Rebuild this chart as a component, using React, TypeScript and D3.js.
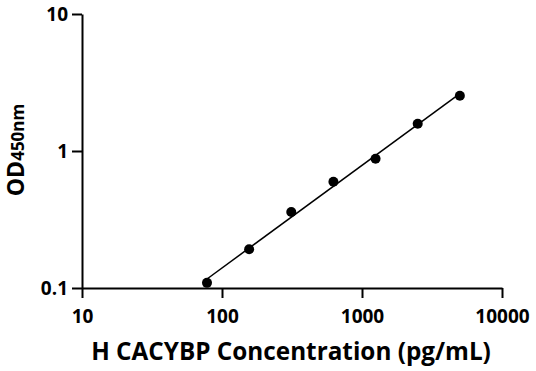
import React, { useEffect, useRef } from 'react';
import * as d3 from 'd3';

const concentrations = [78.125, 156.25, 312.5, 625, 1250, 2500, 5000];
const odValues = [0.109, 0.192, 0.359, 0.597, 0.879, 1.58, 2.53];
const xTicks = [10, 100, 1000, 10000];
const yTicks = [0.1, 1, 10];

export default function App() {
  const ref = useRef<SVGSVGElement>(null);

  useEffect(() => {
    if (!ref.current) return;
    const svg = d3.select(ref.current);
    svg.selectAll('*').remove();

    const font = "'Open Sans', 'DejaVu Sans', sans-serif";
    const x = d3.scaleLog().domain([10, 10000]).range([82, 502]);
    const y = d3.scaleLog().domain([0.1, 10]).range([288, 14]);

    // log-log linear fit
    const lx = concentrations.map(Math.log10);
    const ly = odValues.map(Math.log10);
    const mx = d3.mean(lx) as number;
    const my = d3.mean(ly) as number;
    let num = 0, den = 0;
    lx.forEach((v, i) => { num += (v - mx) * (ly[i] - my); den += (v - mx) ** 2; });
    const slope = num / den;
    const icpt = my - slope * mx;
    const fitX = [concentrations[0], concentrations[concentrations.length - 1]];

    svg.append('line')
      .attr('x1', x(fitX[0])).attr('y1', y(10 ** (icpt + slope * Math.log10(fitX[0]))))
      .attr('x2', x(fitX[1])).attr('y2', y(10 ** (icpt + slope * Math.log10(fitX[1]))))
      .attr('stroke', '#000').attr('stroke-width', 1.5);

    svg.selectAll('circle.pt').data(concentrations).enter().append('circle')
      .attr('cx', d => x(d)).attr('cy', (_, i) => y(odValues[i]))
      .attr('r', 5).attr('fill', '#000');

    const xAxis = svg.append('g').attr('transform', 'translate(0,288)')
      .call(d3.axisBottom(x).tickValues(xTicks).tickFormat(d3.format('d')).tickSize(10).tickSizeOuter(0));
    const yAxis = svg.append('g').attr('transform', 'translate(82,0)')
      .call(d3.axisLeft(y).tickValues(yTicks).tickFormat(d => String(d)).tickSize(10).tickSizeOuter(0));

    [xAxis, yAxis].forEach(g => {
      g.select('.domain').attr('stroke', '#000').attr('stroke-width', 2);
      g.selectAll('.tick line').attr('stroke', '#000').attr('stroke-width', 2);
      g.selectAll('.tick text').attr('fill', '#000')
        .style('font-family', font).style('font-weight', '700').style('font-size', '19px');
    });
    xAxis.selectAll('.tick text').attr('dy', null).attr('y', 35);
    yAxis.selectAll('.tick text').attr('x', -14).attr('dy', '0.35em');

    svg.append('text')
      .attr('x', 291).attr('y', 360).attr('text-anchor', 'middle')
      .style('font-family', font).style('font-weight', '700').style('font-size', '24.3px')
      .text('H CACYBP Concentration (pg/mL)');

    const yt = svg.append('text')
      .attr('transform', 'translate(24,150) rotate(-90)').attr('text-anchor', 'middle')
      .style('font-family', font).style('font-weight', '700').style('font-size', '23px');
    yt.append('tspan').text('OD');
    yt.append('tspan').style('font-size', '17px').text('450nm');
  }, []);

  return (
    <svg ref={ref} width={536} height={371}
      style={{ position: 'absolute', left: 0, top: 0, background: '#fff' }} />
  );
}
